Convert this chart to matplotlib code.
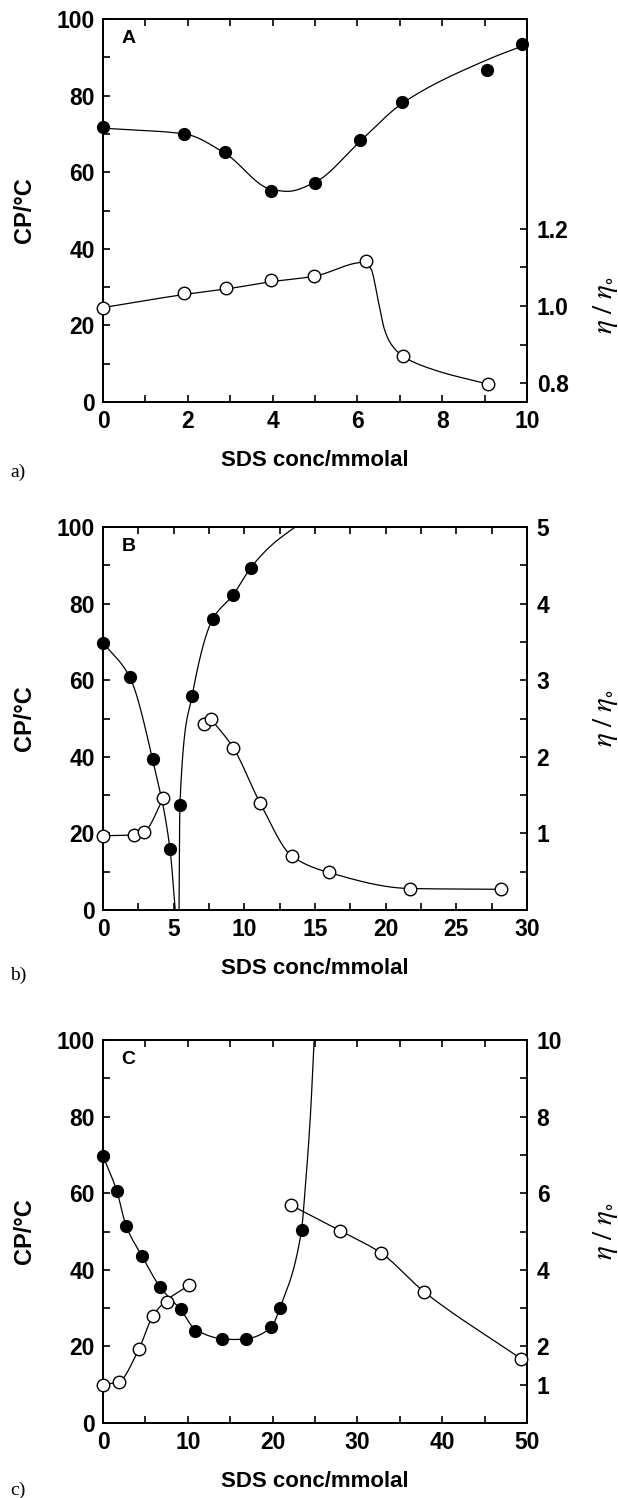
import numpy as np
import matplotlib
matplotlib.use("Agg")
import matplotlib.pyplot as plt
from matplotlib.ticker import FixedLocator, FixedFormatter

plt.rcParams['font.family'] = ['Liberation Sans', 'DejaVu Sans']
plt.rcParams['mathtext.fontset'] = 'stix'

# ---------------- data ----------------
# Panel A
a_cp_x = [0.0, 1.92, 2.87, 3.97, 4.99, 6.06, 7.06, 9.05, 9.89]
a_cp_y = [71.8, 70.0, 65.2, 55.2, 57.1, 68.3, 78.3, 86.6, 93.4]
a_eta_x = [0.0, 1.92, 2.90, 3.97, 4.98, 6.20, 7.08, 9.09]
a_eta_y = [0.996, 1.033, 1.046, 1.067, 1.077, 1.117, 0.870, 0.798]
# fitted curves
a_cp_fit_x = [0.0, 1.92, 2.87, 3.97, 4.35, 4.99, 6.06, 7.06, 9.05, 10.0]
a_cp_fit_y = [71.5, 70.0, 65.0, 55.5, 55.0, 57.3, 68.0, 78.0, 89.3, 93.4]
a_eta_fit_x = [0.0, 1.92, 2.90, 3.97, 4.98, 6.15, 6.32, 6.50, 6.64, 6.78, 7.08, 7.81, 9.09]
a_eta_fit_y = [0.996, 1.030, 1.044, 1.063, 1.077, 1.113, 1.096, 1.009, 0.939, 0.904, 0.870, 0.835, 0.798]

# Panel B
b_cp_x = [0.0, 1.88, 3.51, 4.74, 5.44, 6.31, 7.77, 9.21, 10.44]
b_cp_y = [69.8, 60.9, 39.3, 15.9, 27.5, 56.0, 76.0, 82.3, 89.3]
b_eta_x = [0.0, 2.19, 2.92, 4.27, 7.13, 7.61, 9.21, 11.11, 13.39, 15.97, 21.75, 28.18]
b_eta_y = [0.97, 0.98, 1.02, 1.46, 2.43, 2.50, 2.12, 1.40, 0.70, 0.49, 0.28, 0.27]
b_cp_fit1_x = [0.0, 1.88, 3.51, 4.74, 5.11]
b_cp_fit1_y = [69.8, 60.9, 39.3, 15.9, 0.0]
b_cp_fit2_x = [5.38, 5.44, 6.31, 7.77, 9.21, 10.44, 12.0, 13.6]
b_cp_fit2_y = [0.0, 27.5, 56.0, 76.0, 82.3, 89.3, 95.5, 100.0]
b_eta_fit1_x = [0.0, 2.19, 2.92, 4.27]
b_eta_fit1_y = [0.97, 0.98, 1.02, 1.46]
b_eta_fit2_x = [7.61, 9.21, 11.11, 13.39, 15.97, 21.75, 28.18]
b_eta_fit2_y = [2.50, 2.12, 1.40, 0.70, 0.49, 0.28, 0.27]

# Panel C
c_cp_x = [0.0, 1.64, 2.72, 4.63, 6.70, 9.18, 10.86, 14.0, 16.9, 19.85, 20.83, 23.41]
c_cp_y = [69.7, 60.5, 51.5, 43.5, 35.6, 29.8, 23.9, 22.0, 22.0, 25.0, 29.9, 50.3]
c_eta_x = [0.0, 1.87, 4.21, 5.90, 7.49, 10.2, 22.14, 28.0, 32.77, 37.9, 49.3]
c_eta_y = [1.00, 1.08, 1.92, 2.80, 3.15, 3.60, 5.69, 5.02, 4.44, 3.42, 1.68]
c_cp_fit_x = [0.0, 1.64, 2.72, 4.63, 6.70, 9.18, 10.86, 14.0, 15.5, 16.9, 19.85, 20.83, 23.41, 23.8, 24.45, 24.9]
c_cp_fit_y = [69.7, 60.5, 51.5, 43.5, 35.6, 29.5, 24.5, 22.0, 21.8, 22.0, 25.0, 29.9, 50.3, 60.0, 80.0, 100.0]
c_eta_fit1_x = [0.0, 1.87, 4.21, 5.90, 7.49, 10.2]
c_eta_fit1_y = [1.00, 1.08, 1.92, 2.80, 3.20, 3.60]
c_eta_fit2_x = [22.14, 28.0, 32.77, 37.9, 49.3]
c_eta_fit2_y = [5.69, 5.02, 4.44, 3.42, 1.68]

x_label = "SDS conc/mmolal"
cp_label = "CP/°C"
eta_label = r"$\eta\ /\ \eta_{\circ}$"


def pchip(x, y, n=400):
    x = np.asarray(x, float)
    y = np.asarray(y, float)
    h = np.diff(x)
    d = np.diff(y) / h
    m = np.zeros_like(y)
    m[0] = d[0]
    m[-1] = d[-1]
    for k in range(1, len(x) - 1):
        if d[k - 1] * d[k] <= 0:
            m[k] = 0.0
        else:
            w1 = 2 * h[k] + h[k - 1]
            w2 = h[k] + 2 * h[k - 1]
            m[k] = (w1 + w2) / (w1 / d[k - 1] + w2 / d[k])
    xs = np.linspace(x[0], x[-1], n)
    idx = np.clip(np.searchsorted(x, xs) - 1, 0, len(x) - 2)
    t = (xs - x[idx]) / h[idx]
    h00 = 2 * t**3 - 3 * t**2 + 1
    h10 = t**3 - 2 * t**2 + t
    h01 = -2 * t**3 + 3 * t**2
    h11 = t**3 - t**2
    ys = h00 * y[idx] + h10 * h[idx] * m[idx] + h01 * y[idx + 1] + h11 * h[idx] * m[idx + 1]
    return xs, ys


fig = plt.figure(figsize=(6.18, 14.98), dpi=100)
W, H = 618.0, 1498.0
left = 103 / W
width = 424 / W
height = 383 / H
bottoms = [1 - 402 / H, 1 - 910 / H, 1 - 1423 / H]

tick_fs = 16.5
lab_fs = 16

panels = [
    dict(letter='A', tag='a)', xlim=(0, 10), xmaj=np.arange(0, 11, 2), xmin=np.arange(1, 10, 2),
         eta_lim=(0.752, 1.742), eta_maj=[0.8, 1.0, 1.2], eta_lbl=['0.8', '1.0', '1.2'], eta_min=[0.9, 1.1],
         cp=(a_cp_x, a_cp_y), eta=(a_eta_x, a_eta_y),
         cp_fits=[(a_cp_fit_x, a_cp_fit_y)], eta_fits=[(a_eta_fit_x, a_eta_fit_y)],
         eta_lab_y=0.253, tag_y=472),
    dict(letter='B', tag='b)', xlim=(0, 30), xmaj=np.arange(0, 31, 5), xmin=np.arange(2.5, 30, 5),
         eta_lim=(0, 5), eta_maj=[1, 2, 3, 4, 5], eta_lbl=['1', '2', '3', '4', '5'], eta_min=[0.5, 1.5, 2.5, 3.5, 4.5],
         cp=(b_cp_x, b_cp_y), eta=(b_eta_x, b_eta_y),
         cp_fits=[(b_cp_fit1_x, b_cp_fit1_y), (b_cp_fit2_x, b_cp_fit2_y)],
         eta_fits=[(b_eta_fit1_x, b_eta_fit1_y), (b_eta_fit2_x, b_eta_fit2_y)],
         eta_lab_y=0.5, tag_y=975),
    dict(letter='C', tag='c)', xlim=(0, 50), xmaj=np.arange(0, 51, 10), xmin=np.arange(5, 50, 10),
         eta_lim=(0, 10), eta_maj=[1, 2, 4, 6, 8, 10], eta_lbl=['1', '2', '4', '6', '8', '10'], eta_min=[3, 5, 7, 9],
         cp=(c_cp_x, c_cp_y), eta=(c_eta_x, c_eta_y),
         cp_fits=[(c_cp_fit_x, c_cp_fit_y)],
         eta_fits=[(c_eta_fit1_x, c_eta_fit1_y), (c_eta_fit2_x, c_eta_fit2_y)],
         eta_lab_y=0.5, tag_y=1490),
]

for p, b in zip(panels, bottoms):
    ax = fig.add_axes([left, b, width, height])
    ax2 = ax.twinx()
    ax.set_xlim(*p['xlim'])
    ax.set_ylim(0, 100)
    ax2.set_ylim(*p['eta_lim'])

    for s in ax.spines.values():
        s.set_linewidth(1.3)
    for s in ax2.spines.values():
        s.set_linewidth(1.3)

    ax.xaxis.set_major_locator(FixedLocator(p['xmaj']))
    ax.xaxis.set_minor_locator(FixedLocator(p['xmin']))
    ax.yaxis.set_major_locator(FixedLocator(np.arange(0, 101, 20)))
    ax.yaxis.set_minor_locator(FixedLocator(np.arange(10, 100, 20)))
    ax.tick_params(axis='both', which='both', direction='in', length=5, width=1.2,
                   top=True, right=False, labelsize=tick_fs)
    ax.tick_params(axis='x', which='major', pad=6)
    ax.tick_params(axis='y', which='major', pad=6)
    for lbl in ax.get_xticklabels() + ax.get_yticklabels():
        lbl.set_fontweight('bold')

    ax2.yaxis.set_major_locator(FixedLocator(p['eta_maj']))
    ax2.yaxis.set_major_formatter(FixedFormatter(p['eta_lbl']))
    ax2.yaxis.set_minor_locator(FixedLocator(p['eta_min']))
    ax2.tick_params(axis='y', which='both', direction='in', length=5, width=1.2,
                    labelsize=tick_fs, pad=7)
    for lbl in ax2.get_yticklabels():
        lbl.set_fontweight('bold')

    # fitted curves
    for fx, fy in p['cp_fits']:
        xs, ys = pchip(fx, fy)
        ax.plot(xs, ys, color='black', lw=0.9, zorder=2)
    for fx, fy in p['eta_fits']:
        xs, ys = pchip(fx, fy)
        ax2.plot(xs, ys, color='black', lw=0.9, zorder=2)

    # markers
    ax.plot(p['cp'][0], p['cp'][1], 'o', color='black', ms=8.5, ls='none',
            clip_on=False, zorder=5)
    ax2.plot(p['eta'][0], p['eta'][1], 'o', mfc='white', mec='black', mew=1.0,
             ms=9, ls='none', clip_on=False, zorder=5)

    ax.set_xlabel(x_label, fontsize=lab_fs, fontweight='bold')
    ax.xaxis.set_label_coords(0.5, -0.152)
    ax.xaxis.label.set_va('center')
    ax.set_ylabel(cp_label, fontsize=17, fontweight='bold')
    ax.yaxis.set_label_coords(-0.186, 0.5)
    ax.yaxis.label.set_va('center')
    ax2.set_ylabel(eta_label, fontsize=21, rotation=90)
    ax2.yaxis.set_label_coords(1.186, p['eta_lab_y'])
    ax2.yaxis.label.set_va('center')

    ax.text(0.06, 0.95, p['letter'], transform=ax.transAxes, fontsize=14,
            fontweight='bold', ha='center', va='center')
    fig.text(18 / W, 1 - p['tag_y'] / H, p['tag'], family='Liberation Serif',
             fontsize=14, ha='center', va='center')

fig.savefig('out.png', dpi=100)
